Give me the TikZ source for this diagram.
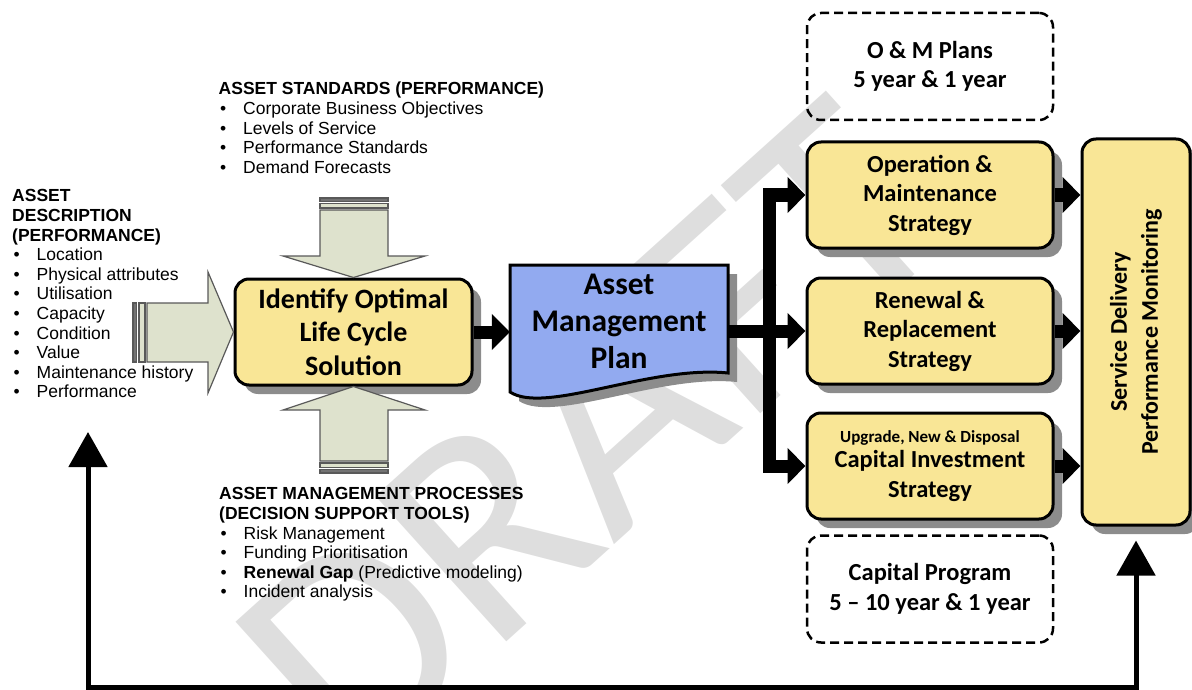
\documentclass[tikz,border=0pt]{standalone}
\usepackage{fontspec}
\setmainfont{Liberation Sans}
\newfontfamily\calibri{Carlito}
\usetikzlibrary{arrows.meta,shadows}

\definecolor{boxyellow}{RGB}{249,230,150}
\definecolor{planblue}{RGB}{146,170,240}
\definecolor{inputfill}{RGB}{222,226,205}
\definecolor{draftgray}{RGB}{222,222,222}

\newcommand{\bul}{\makebox[24.5pt][l]{\hspace{1.5pt}\textbullet}}

\tikzset{
  boxshadow/.style={drop shadow={shadow xshift=9pt,shadow yshift=-9pt,fill=black!45,opacity=1}},
  ybox/.style={draw, line width=3pt, rounded corners=14pt, fill=boxyellow, align=center, boxshadow},
  sbox/.style={minimum width=246pt, minimum height=106pt, font=\calibri\bfseries\fontsize{24.5}{29.5}\selectfont},
  plannote/.style={draw, line width=2.5pt, dash pattern=on 9pt off 5pt, rounded corners=14pt,
    minimum width=246pt, minimum height=107pt, align=center, font=\calibri\bfseries\fontsize{24.5}{29.5}\selectfont},
  textblock/.style={align=left, inner sep=0pt, anchor=north west, font=\fontsize{17.5}{19.6}\selectfont},
  inarrow/.style={draw=black!65, line width=1.2pt, fill=inputfill},
  inbar/.style={draw=black!65, line width=1.2pt, fill=black!55},
  fat/.style={line width=13pt, -{Triangle[length=18pt,width=35pt]}},
  fatboth/.style={line width=13pt, {Triangle[length=18pt,width=35pt]}-{Triangle[length=18pt,width=35pt]}},
  feedback/.style={line width=5pt, {Triangle[length=35pt,width=38pt]}-{Triangle[length=35pt,width=38pt]}},
  draft/.style={rotate=42, text=draftgray, inner sep=0pt, font=\calibri\fontsize{305}{305}\selectfont}
}

\begin{document}
\begin{tikzpicture}[x=1pt,y=-1pt]
  \useasboundingbox (0,0) rectangle (1192,690);
  \node[draft] (draftmark) at (590,435) {DRAFT};

  \node[ybox, minimum width=237pt, minimum height=106pt, font=\calibri\bfseries\fontsize{28}{33.5}\selectfont] (ident) at (353.5,332) {Identify Optimal\\Life Cycle\\Solution};

  \draw[line width=3pt, fill=planblue, boxshadow] (510,265) -- (728,265) -- (728,373) .. controls (650,365) and (545,415) .. (510,392) -- cycle;
  \node[align=center, inner sep=0pt, minimum width=218pt, font=\calibri\bfseries\fontsize{31.5}{37}\selectfont] (plan) at (619,321) {Asset\\Management\\Plan};

  \node[plannote] (omplans) at (930,66.5) {O \& M Plans\\5 year \& 1 year};
  \node[ybox, sbox] (om) at (930,195) {Operation \&\\Maintenance\\Strategy};
  \node[ybox, sbox] (rr) at (930,331) {Renewal \&\\Replacement\\Strategy};
  \node[ybox, sbox] (ci) at (930,466) {{\fontsize{17}{20}\selectfont Upgrade, New \& Disposal}\\[-4.5pt]Capital Investment\\Strategy};
  \node[plannote] (capprog) at (930,589) {Capital Program\\5 – 10 year \& 1 year};

  \node[ybox, minimum width=108pt, minimum height=386pt] (sd) at (1136,332) {};
  \node[rotate=90, align=center, font=\calibri\bfseries\fontsize{24}{31}\selectfont] (sdtext) at (sd) {Service Delivery\\Performance Monitoring};

  \coordinate (bus) at (769,331);
  \draw[fat] (ident.east) -- (ident.east -| plan.west);
  \draw[fat] (plan.east |- rr.west) -- (rr.west);
  \draw[fatboth] (ci.west) -- (bus |- ci.west) -- (bus |- om.west) -- (om.west);
  \draw[fat] (om.east) -- (om.east -| sd.west);
  \draw[fat] (rr.east) -- (rr.east -| sd.west);
  \draw[fat] (ci.east) -- (ci.east -| sd.west);

  \draw[inbar] (133,303) rectangle (136.5,362);
  \draw[inarrow] (139,303) rectangle (145,362);
  \draw[inarrow] (147,303) -- (208,303) -- (208,272) -- (ident.west) -- (208,393) -- (208,362) -- (147,362) -- cycle;
  \draw[inbar] (320,198) rectangle (388,201.5);
  \draw[inarrow] (320,203.5) rectangle (388,208);
  \draw[inarrow] (320,210) -- (388,210) -- (388,256) -- (425,256) -- (ident.north) -- (283,256) -- (320,256) -- cycle;
  \draw[inarrow] (320,461) -- (388,461) -- (388,410) -- (425,410) -- (ident.south) -- (283,410) -- (320,410) -- cycle;
  \draw[inarrow] (320,463) rectangle (388,467.5);
  \draw[inbar] (320,469.5) rectangle (388,473);

  \coordinate (fbl) at (88,432);
  \coordinate (fbr) at ([yshift=-14pt]sd.south);
  \coordinate (fbbase) at (600,687);
  \draw[feedback] (fbl) -- (fbl |- fbbase) -- (fbr |- fbbase) -- (fbr);

  \node[textblock] (standards) at (218.5,82) {\textbf{ASSET STANDARDS (PERFORMANCE)}\\\bul Corporate Business Objectives\\\bul Levels of Service\\\bul Performance Standards\\\bul Demand Forecasts};
  \node[textblock] (desc) at (12,189.5) {\textbf{ASSET}\\\textbf{DESCRIPTION}\\\textbf{(PERFORMANCE)}\\\bul Location\\\bul Physical attributes\\\bul Utilisation\\\bul Capacity\\\bul Condition\\\bul Value\\\bul Maintenance history\\\bul Performance};
  \node[textblock] (processes) at (219,487.5) {\textbf{ASSET MANAGEMENT PROCESSES}\\\textbf{(DECISION SUPPORT TOOLS)}\\\bul Risk Management\\\bul Funding Prioritisation\\\bul \textbf{Renewal Gap} (Predictive modeling)\\\bul Incident analysis};
\end{tikzpicture}
\end{document}
